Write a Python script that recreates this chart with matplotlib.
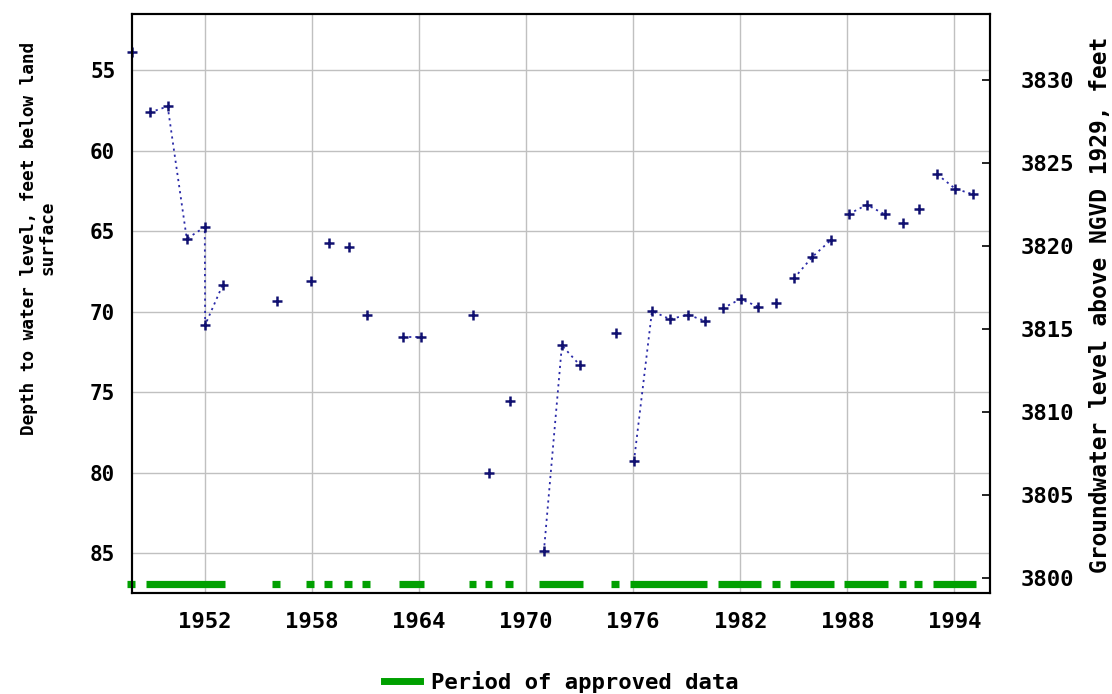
import matplotlib
matplotlib.use("Agg")
import matplotlib.pyplot as plt
from matplotlib.lines import Line2D

plt.rcParams['font.family'] = ['DejaVu Sans Mono']
plt.rcParams['font.weight'] = 'bold'

# measurement dates (decimal years) and depth to water, feet below land surface
years = [1947.88,
         1948.90, 1949.90, 1950.97, 1951.98, 1952.00, 1952.99,
         1956.02, 1957.93, 1958.94, 1960.06, 1961.07,
         1963.09, 1964.12,
         1967.04, 1967.94, 1969.08,
         1970.99, 1972.00, 1973.00,
         1975.05,
         1976.04, 1977.05, 1978.06, 1979.07, 1980.00,
         1981.01, 1982.02, 1983.00,
         1984.03,
         1985.01, 1986.04, 1987.06,
         1988.08, 1989.10, 1990.10,
         1991.13, 1992.03,
         1993.04, 1994.05, 1995.06]
depths = [53.88,
          57.63, 57.26, 65.48, 64.75, 70.84, 68.33,
          69.33, 68.10, 65.72, 65.97, 70.20,
          71.58, 71.58,
          70.20, 80.05, 75.56,
          84.90, 72.10, 73.32,
          71.30,
          79.30, 69.97, 70.47, 70.20, 70.57,
          69.80, 69.22, 69.70,
          69.45,
          67.94, 66.60, 65.58,
          63.94, 63.37, 63.96,
          64.48, 63.60,
          61.48, 62.37, 62.72]
# points in the same segment are joined by the dotted line
segment = [0,
           1, 1, 1, 1, 1, 1,
           2, 3, 4, 5, 6,
           7, 7,
           8, 9, 10,
           11, 11, 11,
           12,
           13, 13, 13, 13, 13,
           14, 14, 14,
           15,
           16, 16, 16,
           17, 17, 17,
           18, 19,
           20, 20, 20]

# periods of approved data (start, end)
approved = [(1947.61, 1948.08), (1948.67, 1953.12), (1955.74, 1956.21),
            (1957.65, 1958.10), (1958.68, 1959.09), (1959.80, 1960.23),
            (1960.81, 1961.26), (1962.85, 1964.25), (1966.78, 1967.21),
            (1967.67, 1968.10), (1968.83, 1969.25), (1970.70, 1973.17),
            (1974.77, 1975.18), (1975.79, 1980.13), (1980.73, 1983.18),
            (1983.80, 1984.21), (1984.79, 1987.24), (1987.82, 1990.27),
            (1990.87, 1991.28), (1991.75, 1992.18), (1992.78, 1995.23)]

x_ticks = [1952, 1958, 1964, 1970, 1976, 1982, 1988, 1994]
depth_ticks = [55, 60, 65, 70, 75, 80, 85]
elev_ticks = [3800, 3805, 3810, 3815, 3820, 3825, 3830]
approved_depth = 86.94

fig = plt.figure(figsize=(11.12, 6.94), dpi=100)
ax = fig.add_axes([0.1187, 0.1455, 0.7716, 0.8343])

ax.set_xlim(1947.9, 1996.0)
ax.set_ylim(87.48, 51.52)
ax.set_xticks(x_ticks)
ax.set_yticks(depth_ticks)
ax.grid(True, color='#c0c0c0', linewidth=1.0)
ax.set_axisbelow(True)
ax.tick_params(axis='both', length=0)
ax.tick_params(axis='x', pad=14, labelsize=16)
ax.tick_params(axis='y', pad=12, labelsize=15)
for s in ax.spines.values():
    s.set_linewidth(1.5)

# approved data bars
for start, end in approved:
    ax.plot([start, end], [approved_depth, approved_depth], color='#00a000',
            linewidth=5.2, solid_capstyle='butt', clip_on=False, zorder=3)

# water levels, one dotted run per segment
for seg in sorted(set(segment)):
    xs = [y for y, s in zip(years, segment) if s == seg]
    ds = [d for d, s in zip(depths, segment) if s == seg]
    ax.plot(xs, ds, color='#2a2aa8', linestyle=(0, (1.2, 2.2)), linewidth=1.3,
            zorder=4, clip_on=False)
ax.plot(years, depths, linestyle='none', marker='+', markersize=7,
        markeredgewidth=1.8, color='#101070', zorder=5, clip_on=False)

ax2 = ax.twinx()
ax2.set_ylim(3799.1, 3833.98)
ax2.set_yticks(elev_ticks)
ax2.tick_params(axis='y', direction='in', length=6, width=1.2, labelsize=16, pad=22)
for s in ax2.spines.values():
    s.set_linewidth(1.5)

fig.text(38 / 1112, 1 - 238 / 694, "Depth to water level, feet below land\nsurface",
         rotation=90, ha='center', va='center', multialignment='center',
         fontsize=12.8, linespacing=1.0)
fig.text(1100 / 1112, 1 - 305 / 694, "Groundwater level above NGVD 1929, feet",
         rotation=90, ha='center', va='center', fontsize=16.5)

handle = Line2D([], [], color='#00a000', linewidth=5)
fig.legend([handle], ['Period of approved data'], loc='center',
           bbox_to_anchor=(0.505, 0.018), frameon=False, fontsize=16,
           handlelength=1.6, handletextpad=0.5)

fig.savefig("out.png", dpi=100)
